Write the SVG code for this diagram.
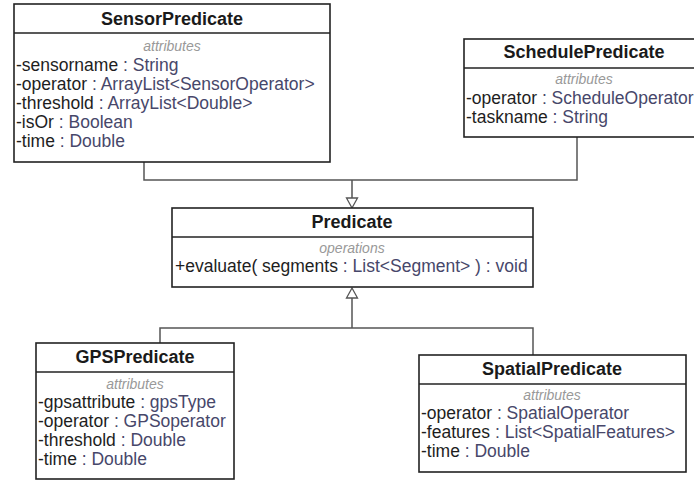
<svg xmlns="http://www.w3.org/2000/svg" width="694" height="481" viewBox="0 0 694 481">
  <style>
    .box { fill: #ffffff; stroke: #222222; stroke-width: 1.6; }
    .div { stroke: #222222; stroke-width: 1.4; }
    .title { font-family: "Liberation Sans", Arial, sans-serif; font-size: 18px; font-weight: bold; fill: #1a1a1a; text-anchor: middle; }
    .sect { font-family: "Liberation Sans", Arial, sans-serif; font-size: 14px; font-style: italic; fill: #999999; text-anchor: middle; }
    .attr { font-family: "Liberation Sans", Arial, sans-serif; font-size: 17.5px; fill: #1e1e1e; }
    .type { fill: #47476a; }
    .edge { fill: none; stroke: #555555; stroke-width: 1.5; }
    .head { fill: #ffffff; stroke: #555555; stroke-width: 1.3; }
  </style>

  <rect width="694" height="481" fill="#ffffff"/>

  <!-- generalization connectors -->
  <g id="connectors">
    <polyline class="edge" points="144,162 144,180 577,180 577,137"/>
    <line class="edge" x1="352" y1="180" x2="352" y2="198"/>
    <polygon class="head" points="346.5,198 357.5,198 352,208"/>
    <polyline class="edge" points="160,343 160,328 533,328 533,355"/>
    <line class="edge" x1="352" y1="328" x2="352" y2="298"/>
    <polygon class="head" points="346.5,298 357.5,298 352,288"/>
  </g>

  <g id="SensorPredicate">
    <rect class="box" x="14" y="4" width="316" height="158"/>
    <line class="div" x1="14" y1="33" x2="330" y2="33"/>
    <text class="title" x="172" y="25">SensorPredicate</text>
    <text class="sect" x="172" y="51">attributes</text>
    <text class="attr" x="16" y="71">-sensorname<tspan class="type"> : String</tspan></text>
    <text class="attr" x="16" y="90">-operator<tspan class="type"> : ArrayList&lt;SensorOperator&gt;</tspan></text>
    <text class="attr" x="16" y="109">-threshold<tspan class="type"> : ArrayList&lt;Double&gt;</tspan></text>
    <text class="attr" x="16" y="128">-isOr<tspan class="type"> : Boolean</tspan></text>
    <text class="attr" x="16" y="147">-time<tspan class="type"> : Double</tspan></text>
  </g>

  <g id="SchedulePredicate">
    <rect class="box" x="464" y="39" width="240" height="98"/>
    <line class="div" x1="464" y1="68" x2="704" y2="68"/>
    <text class="title" x="584" y="58">SchedulePredicate</text>
    <text class="sect" x="584" y="84">attributes</text>
    <text class="attr" x="466" y="104">-operator<tspan class="type"> : ScheduleOperator</tspan></text>
    <text class="attr" x="466" y="123">-taskname<tspan class="type"> : String</tspan></text>
  </g>

  <g id="Predicate">
    <rect class="box" x="172" y="208" width="361" height="79"/>
    <line class="div" x1="172" y1="237" x2="533" y2="237"/>
    <text class="title" x="352" y="228">Predicate</text>
    <text class="sect" x="352" y="253">operations</text>
    <text class="attr" x="175" y="272">+evaluate( segments<tspan class="type"> : List&lt;Segment&gt; ) : void</tspan></text>
  </g>

  <g id="GPSPredicate">
    <rect class="box" x="36" y="343" width="198" height="136"/>
    <line class="div" x1="36" y1="372" x2="234" y2="372"/>
    <text class="title" x="135" y="363">GPSPredicate</text>
    <text class="sect" x="135" y="389">attributes</text>
    <text class="attr" x="38" y="408">-gpsattribute<tspan class="type"> : gpsType</tspan></text>
    <text class="attr" x="38" y="427">-operator<tspan class="type"> : GPSoperator</tspan></text>
    <text class="attr" x="38" y="446">-threshold<tspan class="type"> : Double</tspan></text>
    <text class="attr" x="38" y="465">-time<tspan class="type"> : Double</tspan></text>
  </g>

  <g id="SpatialPredicate">
    <rect class="box" x="419" y="355" width="267" height="117"/>
    <line class="div" x1="419" y1="384" x2="686" y2="384"/>
    <text class="title" x="552" y="375">SpatialPredicate</text>
    <text class="sect" x="552" y="400">attributes</text>
    <text class="attr" x="421" y="419">-operator<tspan class="type"> : SpatialOperator</tspan></text>
    <text class="attr" x="421" y="438">-features<tspan class="type"> : List&lt;SpatialFeatures&gt;</tspan></text>
    <text class="attr" x="421" y="457">-time<tspan class="type"> : Double</tspan></text>
  </g>
</svg>
